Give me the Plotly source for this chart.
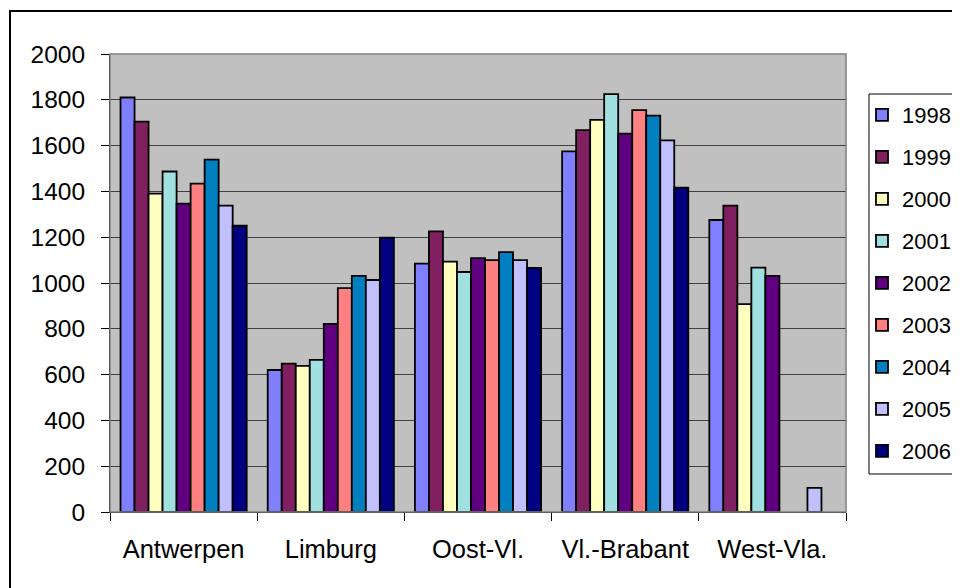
import plotly.graph_objects as go

categories = ["Antwerpen", "Limburg", "Oost-Vl.", "Vl.-Brabant", "West-Vla."]
years = ["1998", "1999", "2000", "2001", "2002", "2003", "2004", "2005", "2006"]

v1998 = [1810, 620, 1085, 1575, 1275]
v1999 = [1705, 648, 1225, 1668, 1338]
v2000 = [1390, 638, 1093, 1712, 908]
v2001 = [1487, 664, 1048, 1825, 1067]
v2002 = [1347, 821, 1109, 1652, 1031]
v2003 = [1434, 978, 1100, 1755, None]
v2004 = [1539, 1031, 1135, 1731, None]
v2005 = [1338, 1013, 1100, 1623, 105]
v2006 = [1250, 1198, 1066, 1416, None]

series = [v1998, v1999, v2000, v2001, v2002, v2003, v2004, v2005, v2006]
colors = ["#8080FF", "#802060", "#FFFFC0", "#A0E0E0", "#600080",
          "#FF8080", "#0080C0", "#C0C0FF", "#000080"]

FONT = "Liberation Sans, Arial, sans-serif"

fig = go.Figure()
for yr, vals, col in zip(years, series, colors):
    fig.add_trace(go.Bar(
        x=categories, y=vals, name=yr, legendgroup=yr,
        marker=dict(color=col, line=dict(color="black", width=1.8)),
    ))

# page body has an 8px margin: work in figure coordinates = screen - 8
OFF = 8
W, H = 960 - OFF, 588 - OFF
L, R, T, B = 110 - OFF, 846 - OFF, 54 - OFF, 512 - OFF
pw, ph = R - L, B - T

def px_x(x):
    return (x - OFF - L) / pw

def px_y(y):
    return (B - (y - OFF)) / ph

fig.update_layout(
    width=W, height=H,
    margin=dict(l=L, r=W - R, t=T, b=H - B, pad=0, autoexpand=False),
    paper_bgcolor="white",
    plot_bgcolor="#C0C0C0",
    barmode="group",
    bargap=0.143,
    bargroupgap=0,
    font=dict(family=FONT, size=24, color="black"),
    showlegend=True,
    legend=dict(
        x=px_x(862), y=px_y(94), xanchor="left", yanchor="top",
        bgcolor="rgba(0,0,0,0)", borderwidth=0,
        font=dict(family=FONT, size=22, color="black"),
        tracegroupgap=10.4,
        itemclick=False,
    ),
    xaxis=dict(
        type="category",
        automargin=False,
        showline=True, linecolor="black", linewidth=1,
        ticks="outside", ticklen=8, tickcolor="black",
        tickson="boundaries",
        showgrid=False,
        tickfont=dict(family=FONT, size=25.5, color="black"),
        ticklabelstandoff=14,
    ),
    yaxis=dict(
        automargin=False,
        range=[0, 2000], dtick=200,
        showline=True, linecolor="black", linewidth=1,
        ticks="outside", ticklen=8, tickcolor="black",
        showgrid=True, gridcolor="#404040", gridwidth=1,
        zeroline=False,
        tickfont=dict(family=FONT, size=24.5, color="black"),
        ticklabelstandoff=11,
    ),
    shapes=[
        dict(type="rect", xref="paper", yref="paper",
             x0=0, x1=1, y0=0, y1=1, layer="above",
             line=dict(color="#808080", width=1.5), fillcolor="rgba(0,0,0,0)"),
        dict(type="rect", xref="paper", yref="paper",
             x0=px_x(869), x1=px_x(980), y0=px_y(474), y1=px_y(94),
             layer="above",
             line=dict(color="black", width=1), fillcolor="white"),
        dict(type="rect", xref="paper", yref="paper",
             x0=px_x(10), x1=px_x(975), y0=px_y(600), y1=px_y(11),
             layer="above",
             line=dict(color="black", width=2), fillcolor="rgba(0,0,0,0)"),
    ],
)

fig.write_html("out.html")
